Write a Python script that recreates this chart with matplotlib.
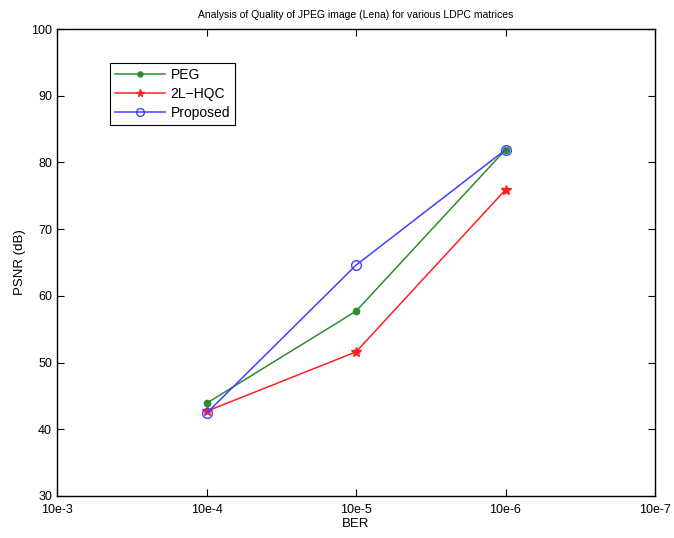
import matplotlib
matplotlib.use("Agg")
import matplotlib.pyplot as plt

plt.rcParams['font.family'] = ['Liberation Sans', 'DejaVu Sans']

tick_labels = ["10e-3", "10e-4", "10e-5", "10e-6", "10e-7"]
x_pos = [1, 2, 3]
peg = [43.9, 57.7, 81.9]
hqc = [42.7, 51.6, 75.9]
proposed = [42.4, 64.6, 81.9]

fig = plt.figure(figsize=(6.74, 5.38), dpi=100)
ax = fig.add_axes([57/674, 1-496/538, (655-57)/674, (496-29)/538])

ax.plot(x_pos, peg, color='#2e8b2e', marker='o', markersize=4.5, lw=1.1, label='PEG')
ax.plot(x_pos, hqc, color='#ff2020', marker='*', markersize=7, lw=1.1, label='2L\u2212HQC')
ax.plot(x_pos, proposed, color='#4040ff', marker='o', markersize=7, mfc='none', lw=1.1, label='Proposed')

ax.set_xlim(0, 4)
ax.set_ylim(30, 100)
ax.set_xticks(range(len(tick_labels)))
ax.set_xticklabels(tick_labels)
ax.set_yticks(range(30, 101, 10))
ax.tick_params(direction='in', top=True, right=True, labelsize=9, length=5)
ax.tick_params(axis='x', pad=6)
for s in ax.spines.values():
    s.set_linewidth(1.0)
ax.set_xlabel('BER', fontsize=9.5, labelpad=1)
ax.set_ylabel('PSNR (dB)', fontsize=9.5)
ax.set_title('Analysis of Quality of JPEG image (Lena) for various LDPC matrices', fontsize=7.5, pad=8)
leg = ax.legend(loc='upper left', bbox_to_anchor=(0.089, 0.927), fontsize=10, fancybox=False,
                edgecolor='black', framealpha=1, handlelength=3.6, borderpad=0.35,
                labelspacing=0.35, handletextpad=0.4, markerscale=0.8, borderaxespad=0)
leg.get_frame().set_linewidth(0.8)

fig.savefig('out.png', dpi=100)
